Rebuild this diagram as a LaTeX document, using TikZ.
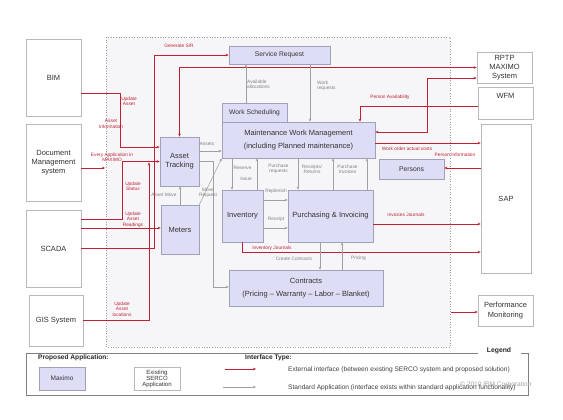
\documentclass[tikz,border=0pt]{standalone}
\usepackage{fontspec}
\setmainfont{Liberation Sans}
\usetikzlibrary{arrows.meta}
\definecolor{maxfill}{RGB}{221,221,246}
\definecolor{maxdraw}{RGB}{160,160,185}
\definecolor{extdraw}{RGB}{185,185,185}
\definecolor{ifred}{RGB}{192,32,52}
\definecolor{ifgray}{RGB}{160,160,160}
\definecolor{zonefill}{RGB}{246,246,248}
\newcommand{\lblsize}{\fontsize{4.8}{5.3}\selectfont}
\newcommand{\boxsize}{\fontsize{7.5}{9.2}\selectfont}

\begin{document}
\begin{tikzpicture}[x=1pt,y=-1pt,>={Stealth[length=3pt,width=2.6pt]},
   maxbox/.style={draw=maxdraw,fill=maxfill,line width=0.6pt,inner sep=1pt,align=center,text=black!80,font=\boxsize},
   extbox/.style={draw=extdraw,fill=white,line width=0.6pt,inner sep=1pt,align=center,text=black!80,font=\boxsize},
   extif/.style={draw=ifred,line width=0.7pt,->},
   stdif/.style={draw=ifgray,line width=0.5pt,->},
   redlbl/.style={text=ifred,font=\lblsize,align=center,inner sep=0pt},
   graylbl/.style={text=ifgray!80!black,font=\lblsize,align=center,inner sep=0pt},
   legtext/.style={anchor=west,inner sep=0pt,text=black!75,font=\fontsize{6.6}{7}\selectfont}]
   \useasboundingbox (0,0) rectangle (563,420);
   \filldraw[draw=ifgray,fill=zonefill,dotted,line width=0.6pt] (106,37) rectangle (450,347);

   \node[extbox,minimum width=55,minimum height=77] (bim)   at (53.5,77.5)  {BIM};
   \node[extbox,minimum width=55,minimum height=77] (dms)   at (53.5,162.5) {Document\\Management\\system};
   \node[extbox,minimum width=55,minimum height=77] (scada) at (53.5,248.5) {SCADA};
   \node[extbox,minimum width=54,minimum height=51] (gis)   at (56,320.5)   {GIS System};
   \node[extbox,minimum width=55,minimum height=31] (rptp)  at (504.5,67.5) {RPTP\\MAXIMO\\System};
   \node[extbox,minimum width=55,minimum height=32,
      label={[name=wfmtxt,font=\boxsize,text=black!80,anchor=north,yshift=-3pt]north:WFM}] (wfm) at (505.5,103) {};
   \node[extbox,minimum width=50,minimum height=149] (sap)  at (506,198.5)  {SAP};
   \node[extbox,minimum width=55,minimum height=31] (perf)  at (505.5,310.5) {Performance\\Monitoring};

   \node[maxbox,minimum width=101,minimum height=18,font=\fontsize{6.7}{8}\selectfont] (sr) at (279.5,55) {Service Request};
   \node[maxbox,minimum width=65,minimum height=19,font=\fontsize{6.7}{8}\selectfont] (ws) at (254.5,112.5) {Work Scheduling};
   \node[maxbox,minimum width=153,minimum height=36] (mwm) at (298.5,140) {Maintenance Work Management\\[4.5pt](including Planned maintenance)};
   \node[maxbox,minimum width=39,minimum height=49] (asset)  at (179.5,161.5) {Asset\\Tracking};
   \node[maxbox,minimum width=38,minimum height=49] (meters) at (180,229.5)   {Meters};
   \node[maxbox,minimum width=41,minimum height=52] (inv)    at (242.5,216)   {Inventory};
   \node[maxbox,minimum width=85,minimum height=52] (pur)    at (330.5,216)   {Purchasing \& Invoicing};
   \node[maxbox,minimum width=154,minimum height=36] (con)   at (306,288)     {Contracts\\[4pt](Pricing -- Warranty -- Labor -- Blanket)};
   \node[maxbox,minimum width=65,minimum height=20,font=\fontsize{6.8}{8}\selectfont] (persons) at (411.5,169) {Persons};

   \draw[extif] ([yshift=-15.5pt]bim.east) -- (120,93) -- (120,147) -- ([yshift=14.5pt]asset.west);
   \coordinate (dmsend) at (105,168);
   \draw[extif] ([yshift=-5.5pt]dms.east) -- (dmsend);
   \draw[extif] ([yshift=29.5pt]scada.east) -- (122,219) -- (122,161.5) -- (asset.west);
   \draw[extif] ([yshift=20.5pt]scada.east) -- ([yshift=1.5pt]meters.west);
   \draw[extif] ([yshift=0.5pt]scada.east) -- (154,248) -- (154,55) -- (sr.west);
   \coordinate (gisend) at (149,162.5);
   \draw[extif] (gis.east) -- (149,320.5) -- (gisend);
   \draw[extif,<->] (rptp.west) -- (179.5,67.5) -- (asset.north);
   \draw[extif,<->] ([yshift=8pt]mwm.east) -- (427,132) -- (427,78) -- ([yshift=-10.5pt]rptp.west);
   \draw[extif] ([yshift=-3pt]wfm.west) -- (360,106) -- ([xshift=61.5pt]mwm.north);
   \draw[extif] ([yshift=-3pt]mwm.east) -- ([yshift=55.5pt]sap.west);
   \draw[extif] ([yshift=30.5pt]sap.west) -- ([yshift=1pt]persons.east);
   \draw[extif] ([yshift=-8pt]pur.east) -- ([yshift=-25.5pt]sap.west);
   \draw[extif] (inv.south) -- (242.5,252) -- ([yshift=-53.5pt]sap.west);
   \coordinate (perfstart) at (451,312);
   \draw[extif] (perfstart) -- ([yshift=-1.5pt]perf.west);

   \draw[stdif] ([xshift=-8.5pt]ws.north) -- ([xshift=-33.5pt]sr.south);
   \draw[stdif] ([xshift=30.5pt]sr.south) -- ([xshift=11.5pt]mwm.north);
   \draw[stdif] ([yshift=10.5pt]asset.east) -- ([yshift=-11pt]mwm.west);
   \draw[stdif] (asset.east) -- (213,161.5) -- (213,287) -- ([yshift=1pt]con.west);
   \draw[stdif] (meters.north) -- (meters.north |- asset.south);
   \draw[stdif] (meters.north east) -- (mwm.south west);
   \draw[stdif] ([xshift=-66.5pt]mwm.south) -- ([xshift=-10.5pt]inv.north);
   \draw[stdif] ([xshift=14.5pt]inv.north) -- ([xshift=-41.5pt]mwm.south);
   \draw[stdif] ([xshift=-0.5pt]mwm.south) -- ([xshift=-32.5pt]pur.north);
   \draw[stdif] ([xshift=2.5pt]pur.north) -- ([xshift=34.5pt]mwm.south);
   \draw[stdif] ([xshift=36.5pt]pur.north) -- ([xshift=68.5pt]mwm.south);
   \draw[stdif] ([yshift=16pt]inv.east) -- ([yshift=16pt]pur.west);
   \draw[stdif] ([yshift=-12pt]inv.east) -- ([yshift=-12pt]pur.west);
   \draw[stdif] ([xshift=-10.5pt]pur.south) -- ([xshift=14pt]con.north);
   \draw[stdif] ([xshift=36pt]con.north) -- ([xshift=11.5pt]pur.south);

   \node[redlbl] (lupdasset)    at (129,101)   {Update\\Asset};
   \node[redlbl] (lassetinfo)   at (111,124)   {Asset\\Information};
   \node[redlbl] (leveryapp)    at (112,157)   {Every Application in\\MAXIMO};
   \node[redlbl] (lupdstatus)   at (133,186)   {Update\\Status};
   \node[redlbl] (lreadings)    at (133,219.5) {Update\\Asset\\Readings};
   \node[redlbl] (lgensr)       at (179,46)    {Generate S/R};
   \node[redlbl] (llocations)   at (122,309)   {Update\\Asset\\locations};
   \node[redlbl] (lpersavail)   at (390,97)    {Person Availability};
   \node[redlbl] (lwocosts)     at (407,148.5) {Work order actual costs};
   \node[redlbl] (lpersinfo)    at (455,155)   {Person Information};
   \node[redlbl] (linvoices)    at (406,215)   {Invoices Journals};
   \node[redlbl] (linvjournals) at (272,248)   {Inventory Journals};

   \node[graylbl,anchor=west,align=left] (lavail)   at (247,84) {Available\\allocations};
   \node[graylbl,anchor=west,align=left] (lworkreq) at (317,86) {Work\\requests};
   \node[graylbl] (lassets)    at (207,144)   {Assets};
   \node[graylbl] (lassetmove) at (164,195)   {Asset Move};
   \node[graylbl] (lmovereq)   at (208,193)   {Move\\Request};
   \node[graylbl] (lreserve)   at (242.5,168) {Reserve};
   \node[graylbl] (lissue)     at (246,179)   {Issue};
   \node[graylbl] (lpurreq)    at (278.5,169) {Purchase\\requests};
   \node[graylbl] (lreceipts)  at (312,169)   {Receipts/\\Returns};
   \node[graylbl] (lpurinv)    at (347.5,169) {Purchase\\Invoices};
   \node[graylbl] (lreplenish) at (276,191)   {Replenish};
   \node[graylbl] (lreceipt)   at (276,219)   {Receipt};
   \node[graylbl] (lcreate)    at (294,259)   {Create Contracts};
   \node[graylbl] (lpricing)   at (358.5,258) {Pricing};

   \draw[draw=ifgray!80!black,line width=1pt] (478,353) -- (26,353) -- (26,395) -- (528,395) -- (528,353) -- (521,353);
   \node[inner sep=0pt,text=black!85,font=\bfseries\fontsize{6.8}{7}\selectfont] (legtitle) at (499,351) {Legend};
   \node[legtext,text=black!85,font=\bfseries\fontsize{6.6}{7}\selectfont] (lprop) at (38,358) {Proposed Application:};
   \node[maxbox,minimum width=46,minimum height=23,font=\fontsize{6.5}{7}\selectfont] (legmax) at (62,378.5) {Maximo};
   \node[extbox,minimum width=46,minimum height=23,inner sep=0pt,font=\fontsize{6}{6}\selectfont] (legserco) at (157,378.5) {Existing\\SERCO\\Application};
   \node[legtext,text=black!85,font=\bfseries\fontsize{6.6}{7}\selectfont] (ltype) at (245,358) {Interface Type:};
   \coordinate (extA) at (225,369);
   \coordinate (extB) at (256,369);
   \coordinate (stdA) at (223,387);
   \coordinate (stdB) at (256,387);
   \draw[extif] (extA) -- (extB);
   \draw[stdif] (stdA) -- (stdB);
   \node[legtext] (lext) at (288,370) {External interface (between existing SERCO system and proposed solution)};
   \node[legtext] (lstd) at (288,388) {Standard Application (interface exists within standard application functionality)};
   \node[legtext,text=ifgray] (lcopy) at (460,385) {© 2010 IBM Corporation};
\end{tikzpicture}
\end{document}
